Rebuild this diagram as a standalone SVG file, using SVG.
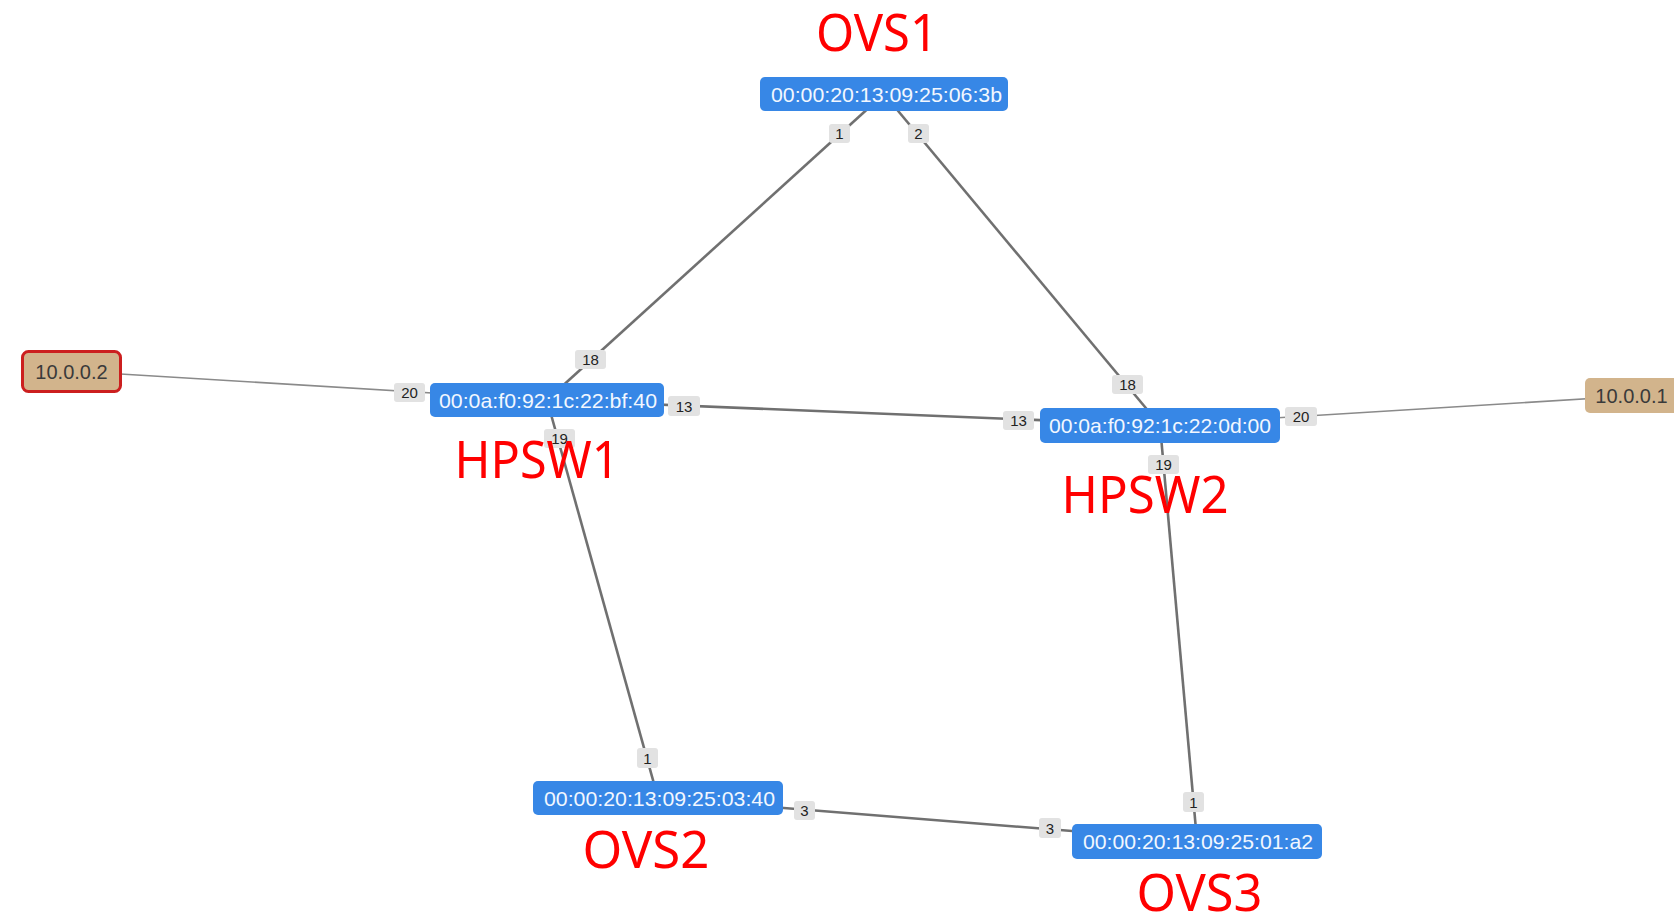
<svg xmlns="http://www.w3.org/2000/svg" width="1674" height="915" viewBox="0 0 1674 915">
  <style>
    .edge { stroke: #707070; stroke-width: 2.6; fill: none; }
    .edge-host { stroke: #8a8a8a; stroke-width: 1.6; fill: none; }
    .sw rect { fill: #3787e6; }
    .sw text { font-family: "Liberation Sans", Arial, sans-serif; font-size: 21px; fill: #f2f7ff; text-anchor: middle; }
    .host rect { fill: #d2b48c; }
    .host text { font-family: "Liberation Sans", Arial, sans-serif; font-size: 20px; fill: #3a3a3a; text-anchor: middle; }
    .port rect { fill: #e2e2e2; }
    .port text { font-family: "Liberation Sans", Arial, sans-serif; font-size: 15px; fill: #222; text-anchor: middle; }
    .tag { font-family: "Noto Sans", "Open Sans", sans-serif; font-size: 51px; fill: #ff0000; text-anchor: middle; }
  </style>
  <rect width="1674" height="915" fill="#ffffff"/>

  <!-- links (center to center, under the nodes) -->
  <g id="links">
    <line class="edge-host" x1="71" y1="371" x2="547" y2="400"/>
    <line class="edge-host" x1="1160" y1="425" x2="1631" y2="396"/>
    <line class="edge" x1="884" y1="94" x2="547" y2="400"/>
    <line class="edge" x1="884" y1="94" x2="1160" y2="425"/>
    <line class="edge" x1="547" y1="400" x2="1160" y2="425"/>
    <line class="edge" x1="547" y1="400" x2="658" y2="798"/>
    <line class="edge" x1="1160" y1="425" x2="1197" y2="841"/>
    <line class="edge" x1="658" y1="798" x2="1197" y2="841"/>

    <!-- port numbers -->
    <g class="port">
      <rect x="829" y="124" width="21" height="19" rx="3"/><text x="839.5" y="139">1</text>
      <rect x="908" y="124" width="21" height="19" rx="3"/><text x="918.5" y="139">2</text>
      <rect x="575" y="350" width="31" height="19" rx="3"/><text x="590.5" y="365">18</text>
      <rect x="394" y="383" width="31" height="19" rx="3"/><text x="409.5" y="398">20</text>
      <rect x="668" y="396" width="32" height="20" rx="3"/><text x="684" y="411.5">13</text>
      <rect x="544" y="429" width="31" height="19" rx="3"/><text x="559.5" y="444">19</text>
      <rect x="1112" y="375" width="31" height="19" rx="3"/><text x="1127.5" y="390">18</text>
      <rect x="1003" y="411" width="31" height="19" rx="3"/><text x="1018.5" y="426">13</text>
      <rect x="1285" y="407" width="32" height="19" rx="3"/><text x="1301" y="422">20</text>
      <rect x="1148" y="455" width="31" height="19" rx="3"/><text x="1163.5" y="470">19</text>
      <rect x="637" y="748" width="21" height="20" rx="3"/><text x="647.5" y="763.5">1</text>
      <rect x="794" y="801" width="21" height="19" rx="3"/><text x="804.5" y="816">3</text>
      <rect x="1183" y="792" width="21" height="20" rx="3"/><text x="1193.5" y="807.5">1</text>
      <rect x="1039" y="818" width="22" height="20" rx="3"/><text x="1050" y="833.5">3</text>
    </g>
  </g>

  <!-- hosts -->
  <g id="host-10-0-0-2" class="host">
    <rect x="22.5" y="351.5" width="98" height="40" rx="6" stroke="#cc1f1f" stroke-width="3"/>
    <text x="71.5" y="378.5">10.0.0.2</text>
  </g>
  <g id="host-10-0-0-1" class="host">
    <rect x="1585" y="378" width="95" height="35" rx="5"/>
    <text x="1631.5" y="402.5">10.0.0.1</text>
  </g>

  <!-- switches -->
  <g id="ovs1" class="sw">
    <rect x="760" y="77" width="248" height="34" rx="5"/>
    <text x="886.5" y="101.5" textLength="231" lengthAdjust="spacingAndGlyphs">00:00:20:13:09:25:06:3b</text>
  </g>
  <g id="hpsw1" class="sw">
    <rect x="430" y="383" width="234" height="34" rx="5"/>
    <text x="548" y="407.5" textLength="218" lengthAdjust="spacingAndGlyphs">00:0a:f0:92:1c:22:bf:40</text>
  </g>
  <g id="hpsw2" class="sw">
    <rect x="1040" y="408" width="240" height="35" rx="5"/>
    <text x="1160" y="433" textLength="222" lengthAdjust="spacingAndGlyphs">00:0a:f0:92:1c:22:0d:00</text>
  </g>
  <g id="ovs2" class="sw">
    <rect x="533" y="781" width="250" height="34" rx="5"/>
    <text x="659.5" y="805.5" textLength="231" lengthAdjust="spacingAndGlyphs">00:00:20:13:09:25:03:40</text>
  </g>
  <g id="ovs3" class="sw">
    <rect x="1072" y="824" width="250" height="35" rx="5"/>
    <text x="1198" y="849" textLength="230" lengthAdjust="spacingAndGlyphs">00:00:20:13:09:25:01:a2</text>
  </g>

  <!-- device names -->
  <g id="names">
    <text class="tag" x="877" y="51" textLength="122" lengthAdjust="spacingAndGlyphs">OVS1</text>
    <text class="tag" x="537" y="478" textLength="165" lengthAdjust="spacingAndGlyphs">HPSW1</text>
    <text class="tag" x="1145" y="513" textLength="167" lengthAdjust="spacingAndGlyphs">HPSW2</text>
    <text class="tag" x="646" y="868" textLength="127" lengthAdjust="spacingAndGlyphs">OVS2</text>
    <text class="tag" x="1199.5" y="911" textLength="126" lengthAdjust="spacingAndGlyphs">OVS3</text>
  </g>
</svg>
